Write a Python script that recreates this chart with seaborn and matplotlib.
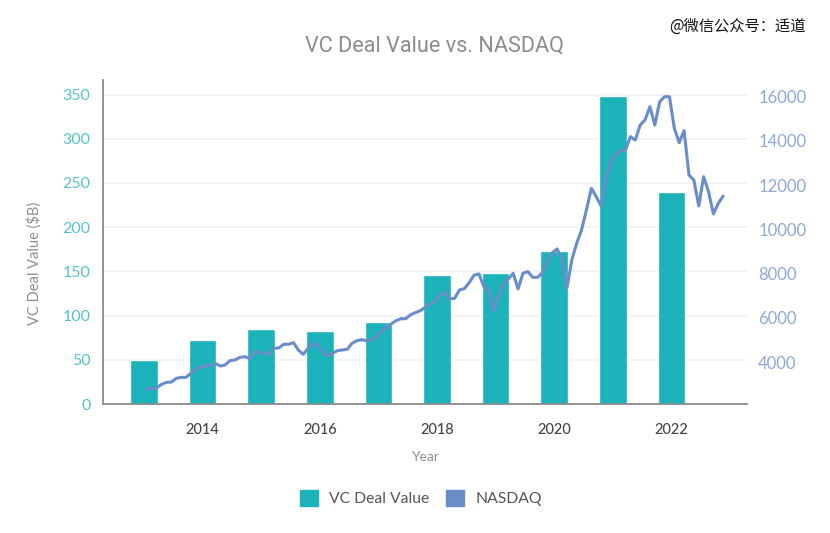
import pandas as pd
import seaborn as sns
import matplotlib
matplotlib.use("Agg")
import matplotlib.pyplot as plt
from matplotlib.patches import Patch

sns.set_theme(style="white")

# data -------------------------------------------------------------------------
years = [2013, 2014, 2015, 2016, 2017, 2018, 2019, 2020, 2021, 2022]
deal_value = [50, 72, 85, 83, 93, 146, 148, 173, 348, 240]

nasdaq_2013 = [2780, 2790, 2840, 2990, 3080, 3095, 3260, 3305, 3305, 3490, 3670, 3775]
nasdaq_2014 = [3820, 3850, 3940, 3820, 3865, 4060, 4090, 4210, 4240, 4165, 4440, 4450]
nasdaq_2015 = [4390, 4360, 4620, 4635, 4800, 4800, 4875, 4545, 4345, 4620, 4845, 4770]
nasdaq_2016 = [4470, 4270, 4395, 4515, 4545, 4575, 4845, 4965, 5010, 4965, 4995, 5145]
nasdaq_2017 = [5375, 5570, 5720, 5870, 5960, 5960, 6140, 6235, 6325, 6475, 6625, 6730]
nasdaq_2018 = [7030, 7140, 6850, 6880, 7260, 7320, 7590, 7935, 7985, 7410, 7230, 6325]
nasdaq_2019 = [7030, 7485, 7755, 8015, 7305, 8015, 8090, 7830, 7830, 8045, 8540, 8950]
nasdaq_2020 = [9115, 8615, 7335, 8615, 9370, 9975, 10880, 11860, 11480, 11060, 12355, 13065]
nasdaq_2021 = [13410, 13550, 13595, 14195, 14045, 14725, 14950, 15555, 14725, 15780, 16005, 16005]
nasdaq_2022 = [14575, 13925, 14470, 12460, 12235, 11060, 12385, 11710, 10700, 11180, 11510]

nasdaq = (nasdaq_2013 + nasdaq_2014 + nasdaq_2015 + nasdaq_2016 + nasdaq_2017
          + nasdaq_2018 + nasdaq_2019 + nasdaq_2020 + nasdaq_2021 + nasdaq_2022)

left_ticks = [0, 50, 100, 150, 200, 250, 300, 350]
right_ticks = [4000, 6000, 8000, 10000, 12000, 14000, 16000]
year_ticks = [2014, 2016, 2018, 2020, 2022]

# colours ----------------------------------------------------------------------
BAR_COLOR = "#1bb3b9"
LINE_COLOR = "#6a8cc8"
GREY = "#8e8e8e"

bars = pd.DataFrame({"year": years, "value": deal_value})
line = pd.DataFrame({"pos": [2013.05 + i / 12 for i in range(len(nasdaq))], "value": nasdaq})

fig = plt.figure(figsize=(8.3, 5.33), dpi=100)
ax = fig.add_axes([103 / 830, 1 - 404 / 533, 644 / 830, 324 / 533])

# bars -------------------------------------------------------------------------
sns.barplot(data=bars, x="year", y="value", native_scale=True, width=0.47,
            color=BAR_COLOR, saturation=1, ax=ax, zorder=2)
ax.set_xlim(2012.3, 2023.29)
ax.set_ylim(0, 366.4)
ax.set_xticks(year_ticks)
ax.set_xticklabels(year_ticks, fontsize=10.5, color="#444444", family="Lato", fontweight="medium")
ax.set_yticks(left_ticks)
ax.set_yticklabels(left_ticks, fontsize=11.5, color="#55c4c8", family="Lato")
ax.tick_params(axis="both", length=0)
ax.tick_params(axis="x", pad=14)
ax.tick_params(axis="y", pad=9)
ax.grid(axis="y", color="#f1f1f1", lw=1.2)
ax.set_axisbelow(True)
sns.despine(ax=ax, top=True, right=True)
for side in ["left", "bottom"]:
    ax.spines[side].set_color("#8a8a8a")
    ax.spines[side].set_linewidth(1.3)

ax.set_xlabel("Year", fontsize=10, color=GREY, family="Lato")
ax.xaxis.set_label_coords(0.5, -0.145)
ax.set_ylabel("VC Deal Value ($B)", fontsize=10.5, color=GREY, family="Lato")
ax.yaxis.set_label_coords(-0.095, 0.435)

# NASDAQ on the right axis -----------------------------------------------------
ax2 = ax.twinx()
sns.lineplot(data=line, x="pos", y="value", color=LINE_COLOR, lw=2.2, ax=ax2, errorbar=None)
ax2.set_ylim(2100, 16760)
ax2.set_yticks(right_ticks)
ax2.set_yticklabels(right_ticks, fontsize=12, color="#8fa8d8", family="Lato")
ax2.tick_params(axis="y", length=0, pad=8)
ax2.set_ylabel("")
ax2.set_xlabel("")
ax2.grid(False)
for side in ["top", "right", "left", "bottom"]:
    ax2.spines[side].set_visible(False)

# title, legend, watermark -----------------------------------------------------
fig.text(434 / 830, 1 - 46.5 / 533, "VC Deal Value vs. NASDAQ", ha="center", va="center",
         fontsize=15.6, color="#8c8c8c", family="Roboto")

handles = [Patch(color=BAR_COLOR, label="VC Deal Value"), Patch(color=LINE_COLOR, label="NASDAQ")]
fig.legend(handles=handles, loc="center", bbox_to_anchor=(421 / 830, 1 - 498 / 533), ncol=2,
           frameon=False, handlelength=1.15, handleheight=1.15, handletextpad=0.72, columnspacing=1.05,
           labelcolor="#555555", prop={"family": "Lato", "size": 11.3})

fig.text(806 / 830, 1 - 26 / 533, "@微信公众号：适道", ha="right", va="center",
         fontsize=11, color="#111111", family="Noto Sans CJK SC")

fig.savefig("out.png", dpi=100)
